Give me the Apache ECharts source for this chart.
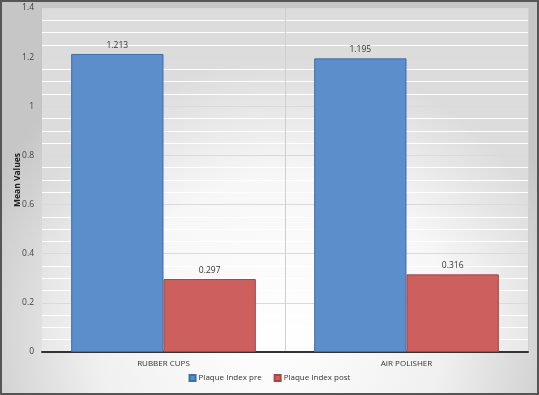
<!DOCTYPE html>
<html>
<head>
<meta charset="utf-8">
<script src="https://cdn.jsdelivr.net/npm/echarts@6/dist/echarts.min.js"></script>
<style>
  html, body { margin: 0; padding: 0; }
  #chart { width: 539px; height: 395px; }
</style>
</head>
<body>
<div id="chart"></div>
<script>
var categories = ["RUBBER CUPS", "AIR POLISHER"];
var preValues = [1.213, 1.195];
var postValues = [0.297, 0.316];
var seriesNames = ["Plaque Index pre", "Plaque Index post"];

var chart = echarts.init(document.getElementById("chart"));
var labelStyle = {
  show: true,
  position: "top",
  distance: 4,
  color: "#333",
  fontSize: 8.5,
  fontFamily: "Open Sans",
};
var option = {
  backgroundColor: new echarts.graphic.RadialGradient(0.5, 0.85, 0.8, [
    { offset: 0, color: "#ffffff" },
    { offset: 0.55, color: "#f0f0f0" },
    { offset: 1, color: "#c6c6c6" },
  ]),
  graphic: [
    {
      type: "rect",
      shape: { x: 1, y: 1, width: 537, height: 393 },
      style: { fill: "none", stroke: "#555", lineWidth: 2 },
      silent: true,
    },
  ],
  grid: {
    left: 42,
    right: 11,
    top: 8,
    bottom: 43,
    outerBoundsMode: "none",
    containLabel: false,
    show: true,
    borderWidth: 0,
    backgroundColor: new echarts.graphic.RadialGradient(0.5, 1, 0.85, [
      { offset: 0, color: "#ffffff" },
      { offset: 0.6, color: "#f7f7f7" },
      { offset: 1, color: "#dcdcdc" },
    ]),
  },
  legend: {
    data: seriesNames,
    bottom: 8,
    left: "center",
    itemWidth: 6,
    itemHeight: 6,
    itemGap: 12,
    icon: "rect",
    textStyle: { color: "#333", fontSize: 8, fontFamily: "Open Sans", padding: [0, 0, 0, -2] },
  },
  xAxis: {
    type: "category",
    data: categories,
    axisTick: { show: false },
    axisLine: { show: true, lineStyle: { color: "#333", width: 2 } },
    axisLabel: { color: "#333", fontSize: 8, fontFamily: "Open Sans", margin: 8 },
    splitLine: {
      show: true,
      interval: 0,
      lineStyle: { color: ["transparent", "#cfcfcf", "#cfcfcf"], width: 1 },
    },
  },
  yAxis: {
    type: "value",
    min: 0,
    max: 1.4,
    interval: 0.2,
    name: "Mean Values",
    nameLocation: "middle",
    nameGap: 20,
    nameMoveOverlap: false,
    nameTextStyle: { color: "#222", fontSize: 8.5, fontWeight: "bold", fontFamily: "Open Sans" },
    axisLine: { show: false },
    axisTick: { show: false },
    axisLabel: { color: "#444", fontSize: 8.5, fontFamily: "Open Sans", margin: 8 },
    splitLine: { show: true, lineStyle: { color: "#dadada", width: 1 } },
    minorTick: { show: false, splitNumber: 4 },
    minorSplitLine: { show: true, lineStyle: { color: "#ffffff", width: 1 } },
  },
  series: [
    {
      name: seriesNames[0],
      type: "bar",
      data: preValues,
      barGap: "0%",
      barCategoryGap: "24%",
      itemStyle: { color: "#5b8ecb", borderColor: "#3f6fa8", borderWidth: 1 },
      label: labelStyle,
    },
    {
      name: seriesNames[1],
      type: "bar",
      data: postValues,
      itemStyle: { color: "#cd5f5f", borderColor: "#a84545", borderWidth: 1 },
      label: labelStyle,
    },
  ],
};
chart.setOption(option);
</script>
</body>
</html>
